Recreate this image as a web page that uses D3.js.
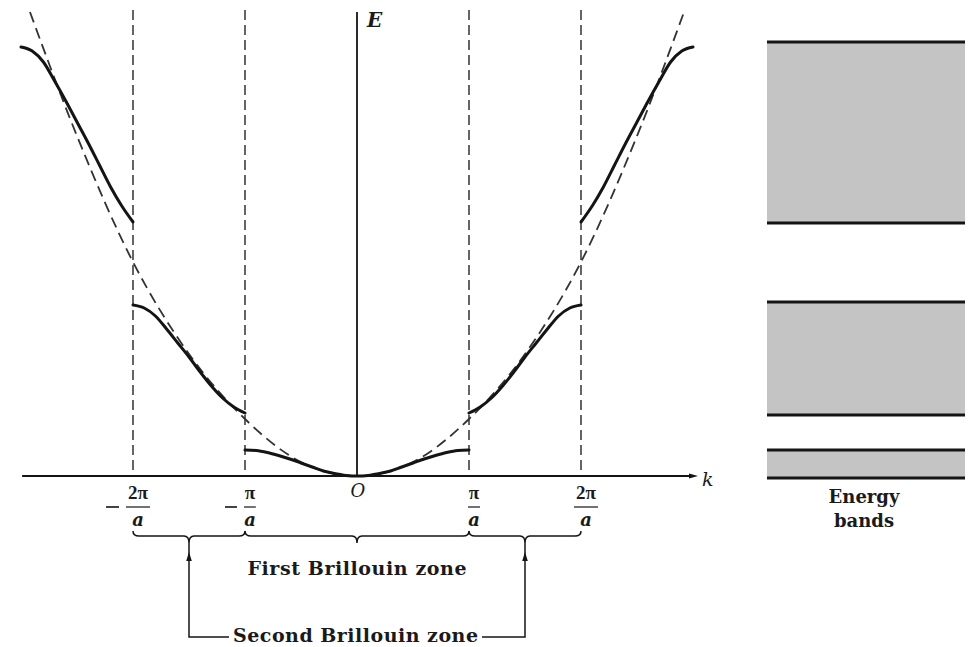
<!DOCTYPE html>
<html>
<head>
<meta charset="utf-8">
<script src="https://cdn.jsdelivr.net/npm/d3@7"></script>
<style>
  body { margin: 0; background: #fff; }
  text { font-family: "DejaVu Serif", "Liberation Serif", serif; fill: #1a1a1a; }
</style>
</head>
<body>
<svg id="chart"></svg>
<script>
// ====================================================================
// data (k in units of pi/a, E in arbitrary units)

// free electron parabola (dashed)
var free_k = [-2.92, -2.5, -2, -1.5, -1, -0.5, 0, 0.5, 1, 1.5, 2, 2.5, 2.92];
var free_E = [464, 340, 214, 122, 57, 14, 0, 14, 57, 122, 214, 340, 464];

// bands, right half only, mirrored for k < 0
var band1_k = [0, 0.1, 0.2, 0.3, 0.4, 0.5, 0.6, 0.7, 0.8, 0.9, 1.0];
var band1_E = [0, 0.6, 2.5, 5, 9, 13, 17, 20.5, 23.5, 25.5, 26];

var band2_k = [1.0, 1.1, 1.2, 1.3, 1.4, 1.5, 1.6, 1.7, 1.8, 1.9, 2.0];
var band2_E = [63, 69, 78, 90, 104, 119, 133, 147, 160, 168, 171];

var band3_k = [2.0, 2.1, 2.2, 2.3, 2.4, 2.5, 2.6, 2.7, 2.8, 2.9, 3.0];
var band3_E = [254, 270, 289, 311, 333, 354, 375, 395, 414, 425, 429];

// zone boundaries and their labels
var zone_k = [-2, -1, 1, 2];
var zone_num = ["2π", "π", "π", "2π"];
var zone_neg = [true, true, false, false];

// allowed energy bands (right panel)
var allowed_lo = [-2, 61, 253];
var allowed_hi = [26, 174, 434];

// ====================================================================
var width = 973, height = 647;
var str_ink = "#141414";
var str_dash_ink = "#333333";

var svg = d3.select("#chart")
  .attr("width", width)
  .attr("height", height);

var x = d3.scaleLinear().domain([-3, 3]).range([21, 693]);
var y = d3.scaleLinear().domain([0, 466]).range([476, 10]);

function fn_pts(arr_k, arr_E, int_sign) {
  return arr_k.map(function(k, i) { return [int_sign * k, arr_E[i]]; });
}

var line = d3.line()
  .x(function(d) { return x(d[0]); })
  .y(function(d) { return y(d[1]); })
  .curve(d3.curveMonotoneX);

// ====================================================================
// vertical dashed lines at zone boundaries
svg.append("g")
  .selectAll("line")
  .data(zone_k)
  .enter()
  .append("line")
  .attr("x1", function(d) { return x(d); })
  .attr("x2", function(d) { return x(d); })
  .attr("y1", y(466))
  .attr("y2", y(0))
  .style("stroke", str_dash_ink)
  .style("stroke-width", 1.5)
  .style("stroke-dasharray", "10,5");

// free electron parabola
svg.append("path")
  .datum(fn_pts(free_k, free_E, 1))
  .attr("d", line)
  .style("fill", "none")
  .style("stroke", str_dash_ink)
  .style("stroke-width", 1.8)
  .style("stroke-dasharray", "11,6");

// axes
svg.append("line")
  .attr("x1", x(-2.99)).attr("x2", x(3.0))
  .attr("y1", y(0)).attr("y2", y(0))
  .style("stroke", str_ink).style("stroke-width", 1.8);

svg.append("path")
  .attr("d", "M" + (x(3.0) + 5) + "," + y(0) + " l-9,-2.5 l0,5 z")
  .style("fill", str_ink);

svg.append("line")
  .attr("x1", x(0)).attr("x2", x(0))
  .attr("y1", y(464)).attr("y2", y(0))
  .style("stroke", str_ink).style("stroke-width", 1.8);

svg.append("text").attr("x", x(0) + 10).attr("y", 27)
  .style("font-size", "20px").style("font-style", "italic").style("font-weight", "bold")
  .text("E");

svg.append("text").attr("x", x(3.0) + 9).attr("y", 486)
  .style("font-size", "19px").style("font-style", "italic")
  .text("k");

svg.append("text").attr("x", x(0) + 1).attr("y", 497)
  .attr("text-anchor", "middle")
  .style("font-size", "18px").style("font-style", "italic")
  .text("O");

// ====================================================================
// band curves
var band_list = [
  fn_pts(band1_k, band1_E, -1).reverse().concat(fn_pts(band1_k, band1_E, 1).slice(1)),
  fn_pts(band2_k, band2_E, -1).reverse(),
  fn_pts(band2_k, band2_E, 1),
  fn_pts(band3_k, band3_E, -1).reverse(),
  fn_pts(band3_k, band3_E, 1)
];

svg.append("g")
  .selectAll("path")
  .data(band_list)
  .enter()
  .append("path")
  .attr("d", line)
  .style("fill", "none")
  .style("stroke", str_ink)
  .style("stroke-width", 3)
  .style("stroke-linecap", "round");

// ====================================================================
// tick labels  -2pi/a, -pi/a, pi/a, 2pi/a
var tick_g = svg.append("g")
  .selectAll("g")
  .data(zone_k)
  .enter()
  .append("g")
  .attr("transform", function(d) { return "translate(" + (x(d) + 5) + ",0)"; });

tick_g.append("text")
  .attr("y", 499)
  .attr("text-anchor", "middle")
  .style("font-family", "'Liberation Serif', serif")
  .style("font-size", "19px").style("font-weight", "bold")
  .text(function(d, i) { return zone_num[i]; });

tick_g.append("line")
  .attr("x1", function(d, i) { return zone_num[i].length > 1 ? -12 : -6; })
  .attr("x2", function(d, i) { return zone_num[i].length > 1 ? 12 : 6; })
  .attr("y1", 507).attr("y2", 507)
  .style("stroke", str_ink).style("stroke-width", 1.2);

tick_g.append("text")
  .attr("y", 526)
  .attr("text-anchor", "middle")
  .style("font-size", "18px").style("font-style", "italic").style("font-weight", "bold")
  .text("a");

tick_g.filter(function(d, i) { return zone_neg[i]; })
  .append("line")
  .attr("x1", function(d, i) { return d == -2 ? -32 : -25; })
  .attr("x2", function(d, i) { return d == -2 ? -19 : -13; })
  .attr("y1", 507).attr("y2", 507)
  .style("stroke", str_ink).style("stroke-width", 1.6);

// ====================================================================
// Brillouin zone braces
var int_brace_y = 536;

function fn_brace(x1, x2, yy, int_drop) {
  var m = (x1 + x2) / 2;
  return "M" + x1 + "," + (yy - 5) +
    " Q" + x1 + "," + yy + " " + (x1 + 6) + "," + yy +
    " L" + (m - 5) + "," + yy +
    " Q" + m + "," + yy + " " + m + "," + (yy + int_drop) +
    " Q" + m + "," + yy + " " + (m + 5) + "," + yy +
    " L" + (x2 - 6) + "," + yy +
    " Q" + x2 + "," + yy + " " + x2 + "," + (yy - 5);
}

var brace_pairs = [[-2, -1], [-1, 1], [1, 2]];
svg.append("g")
  .selectAll("path")
  .data(brace_pairs)
  .enter()
  .append("path")
  .attr("d", function(d) { return fn_brace(x(d[0]), x(d[1]), int_brace_y, 7); })
  .style("fill", "none")
  .style("stroke", str_ink)
  .style("stroke-width", 1.5);

// first zone label
svg.append("text")
  .attr("x", x(0)).attr("y", 575)
  .attr("text-anchor", "middle")
  .attr("textLength", 219).attr("lengthAdjust", "spacing")
  .style("font-size", "19px").style("font-weight", "bold")
  .text("First Brillouin zone");

// second zone: lines down from the two outer braces
var int_bottom_y = 637;
var second_mid = [(x(-2) + x(-1)) / 2, (x(1) + x(2)) / 2];

svg.append("g")
  .selectAll("path")
  .data(second_mid)
  .enter()
  .append("path")
  .attr("d", function(d, i) {
    var x_in = i == 0 ? 229 : 482;
    return "M" + d + "," + (int_brace_y + 7) + " L" + d + "," + int_bottom_y + " L" + x_in + "," + int_bottom_y;
  })
  .style("fill", "none")
  .style("stroke", str_ink)
  .style("stroke-width", 1.5);

svg.append("g")
  .selectAll("path")
  .data(second_mid)
  .enter()
  .append("path")
  .attr("d", function(d) { return "M" + d + ",552 l-2.8,9 l5.6,0 z"; })
  .style("fill", str_ink);

svg.append("text")
  .attr("x", 355.5).attr("y", 642)
  .attr("text-anchor", "middle")
  .attr("textLength", 245).attr("lengthAdjust", "spacing")
  .style("font-size", "19px").style("font-weight", "bold")
  .text("Second Brillouin zone");

// ====================================================================
// energy band panel
var int_panel_x0 = 767, int_panel_x1 = 965;

var panel = svg.append("g").attr("id", "band_panel");

panel.selectAll("rect")
  .data(allowed_lo)
  .enter()
  .append("rect")
  .attr("x", int_panel_x0)
  .attr("width", int_panel_x1 - int_panel_x0)
  .attr("y", function(d, i) { return y(allowed_hi[i]); })
  .attr("height", function(d, i) { return y(d) - y(allowed_hi[i]); })
  .style("fill", "#c4c4c4");

panel.selectAll("line")
  .data(allowed_lo.concat(allowed_hi))
  .enter()
  .append("line")
  .attr("x1", int_panel_x0).attr("x2", int_panel_x1)
  .attr("y1", function(d) { return y(d); })
  .attr("y2", function(d) { return y(d); })
  .style("stroke", str_ink)
  .style("stroke-width", 3);

panel.append("text").attr("x", 864).attr("y", 503)
  .attr("text-anchor", "middle")
  .style("font-size", "18px").style("font-weight", "bold")
  .text("Energy");

panel.append("text").attr("x", 864).attr("y", 527)
  .attr("text-anchor", "middle")
  .style("font-size", "18px").style("font-weight", "bold")
  .text("bands");
</script>
</body>
</html>
